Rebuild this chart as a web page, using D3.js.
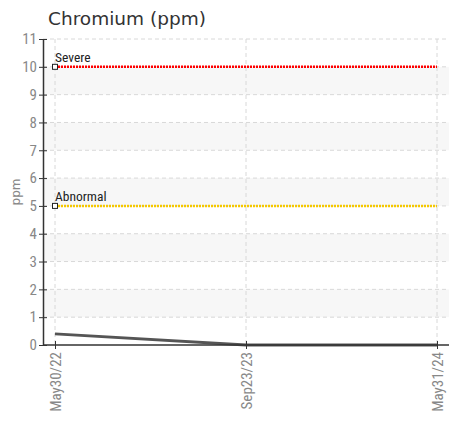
<!DOCTYPE html>
<html>
<head>
<meta charset="UTF-8">
<script src="https://d3js.org/d3.v7.min.js"></script>
<style>
  body { margin: 0; background: #fff; }
  svg { display: block; }
</style>
</head>
<body>
<svg width="458" height="422"></svg>
<script>
// Data

const dates = ["May30/22", "Sep23/23", "May31/24"];
const values = [0.4, 0, 0];
const yTicks = [0, 1, 2, 3, 4, 5, 6, 7, 8, 9, 10, 11];
const limitNames = ["Severe", "Abnormal"];
const limitValues = [10, 5];
const limitColors = ["#ff0000", "#f5c800"];

// Layout

const plotLeft = 43, plotRight = 449, plotTop = 39, plotBottom = 345;
const cond = "'Liberation Sans Narrow', 'Roboto Condensed', 'Arial Narrow', sans-serif";

const x = d3.scalePoint().domain(dates).range([55, 437]);
const y = d3.scaleLinear().domain([0, 11]).range([plotBottom, plotTop]);

const svg = d3.select("svg");

// Title
svg.append("text")
  .attr("x", 48).attr("y", 25)
  .attr("font-family", "'DejaVu Sans', sans-serif")
  .attr("font-size", 18.5)
  .attr("fill", "#333")
  .text("Chromium (ppm)");

// Bands
svg.append("g")
  .selectAll("rect")
  .data(yTicks.filter(t => t % 2 === 1 && t < 11))
  .join("rect")
    .attr("x", plotLeft).attr("width", plotRight - plotLeft)
    .attr("y", d => y(d + 1)).attr("height", d => y(d) - y(d + 1))
    .attr("fill", "#f7f7f7");

// Grid
svg.append("g")
  .selectAll("line")
  .data(yTicks.filter(t => t > 0))
  .join("line")
    .attr("x1", plotLeft).attr("x2", plotRight)
    .attr("y1", d => y(d)).attr("y2", d => y(d))
    .attr("stroke", "#d8d8d8").attr("stroke-dasharray", "4,3");

svg.append("g")
  .selectAll("line")
  .data(dates)
  .join("line")
    .attr("x1", d => x(d)).attr("x2", d => x(d))
    .attr("y1", plotTop).attr("y2", plotBottom)
    .attr("stroke", "#d8d8d8").attr("stroke-dasharray", "4,3");

// Limit lines
limitNames.forEach((name, i) => {
  const yy = y(limitValues[i]);
  svg.append("line")
    .attr("x1", x(dates[0])).attr("x2", x(dates[dates.length - 1]))
    .attr("y1", yy).attr("y2", yy)
    .attr("stroke", limitColors[i]).attr("stroke-width", 2.5)
    .attr("stroke-dasharray", "2,1");
  svg.append("rect")
    .attr("x", x(dates[0]) - 2.5).attr("y", yy - 2.5)
    .attr("width", 5).attr("height", 5)
    .attr("fill", "#fff").attr("stroke", "#222").attr("stroke-width", 1);
  svg.append("text")
    .attr("x", x(dates[0])).attr("y", yy - 5)
    .attr("font-family", cond).attr("font-size", 13.5)
    .attr("fill", "#222")
    .text(name);
});

// Data line
svg.append("path")
  .datum(values)
  .attr("fill", "none")
  .attr("stroke", "#555").attr("stroke-width", 3)
  .attr("d", d3.line().x((d, i) => x(dates[i])).y(d => y(d)));

// Axes
const yAxis = svg.append("g")
  .attr("transform", `translate(${plotLeft},0)`)
  .call(d3.axisLeft(y).tickValues(yTicks).tickFormat(d3.format("d")).tickSize(4).tickSizeOuter(0));
yAxis.selectAll(".tick line").attr("x2", 4).attr("x1", -4).attr("stroke", "#333");
yAxis.select(".domain").attr("stroke", "#333").attr("stroke-width", 1.5);
yAxis.selectAll("text")
  .attr("x", -6)
  .attr("font-family", cond).attr("font-size", 15).attr("fill", "#888");

const xAxis = svg.append("g")
  .attr("transform", `translate(0,${plotBottom})`)
  .call(d3.axisBottom(x).tickSize(4).tickSizeOuter(0));
xAxis.select(".domain").attr("d", `M${plotLeft},0H${plotRight}`).attr("stroke", "#333").attr("stroke-width", 1.5);
xAxis.selectAll(".tick line").attr("y1", -4).attr("y2", 4).attr("stroke", "#333");
xAxis.selectAll("text")
  .attr("transform", "rotate(-90)")
  .attr("x", -7).attr("y", 0).attr("dy", "0.35em")
  .attr("text-anchor", "end")
  .attr("font-family", cond).attr("font-size", 15).attr("fill", "#888");

// Y label
svg.append("text")
  .attr("transform", `translate(20,${(plotTop + plotBottom) / 2}) rotate(-90)`)
  .attr("text-anchor", "middle")
  .attr("font-family", "'DejaVu Sans', sans-serif").attr("font-size", 12)
  .attr("fill", "#888")
  .text("ppm");
</script>
</body>
</html>
